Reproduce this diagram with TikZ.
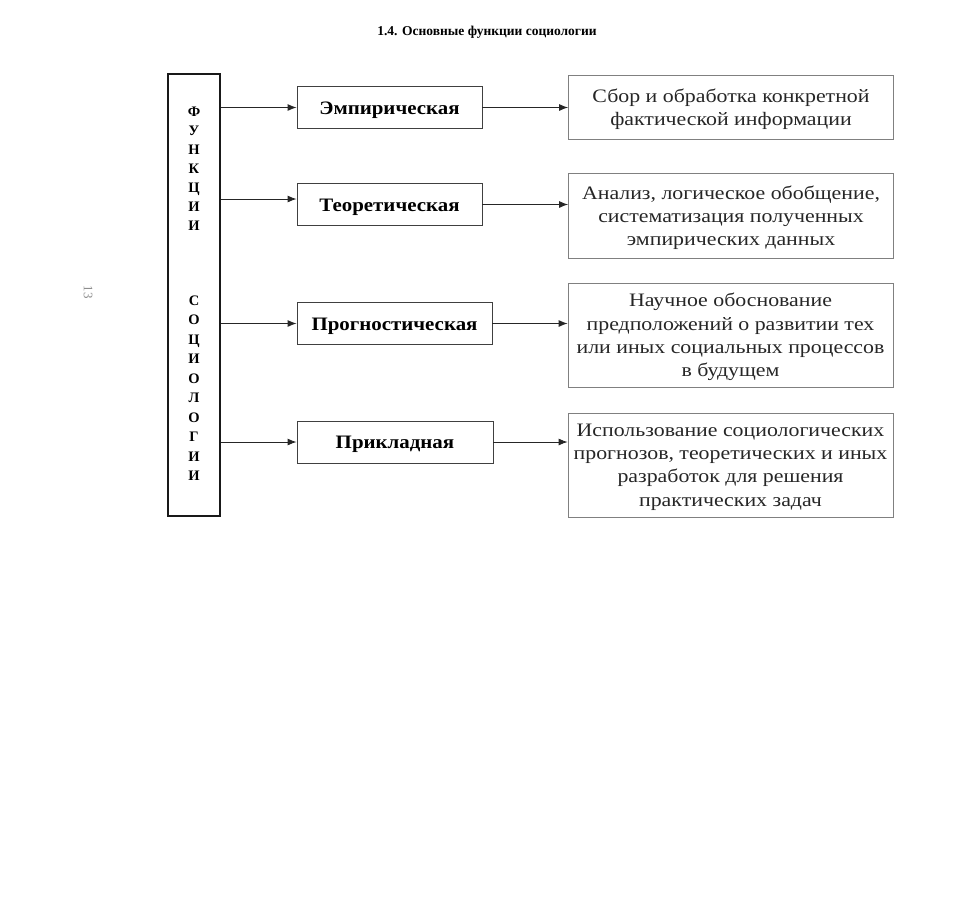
\documentclass[tikz,border=0pt]{standalone}
\usepackage{fontspec}
\setmainfont{Liberation Serif}
\newfontfamily\boxfont[FakeStretch=1.15]{Liberation Serif}
\newfontfamily\fnfont[FakeStretch=1.1]{Liberation Serif}
\usetikzlibrary{arrows.meta}
\begin{document}
\begin{tikzpicture}[x=1pt,y=-1pt,
  fnbox/.style={draw=black!75,line width=0.9pt,minimum width=#1,minimum height=42pt,inner sep=0pt,
    text height=13.5pt,text depth=0pt,
    font=\fnfont\bfseries\fontsize{19}{22}\selectfont},
  descbox/.style={draw=black!50,line width=0.8pt,minimum width=325pt,minimum height=#1,inner sep=0pt,
    align=center,text=black!85,text depth=0pt,font=\boxfont\fontsize{19}{23.3}\selectfont},
  letter/.style={inner sep=0pt,text height=10pt,text depth=0pt,font=\bfseries\fontsize{14.5}{15}\selectfont},
  conn/.style={draw=black!85,line width=0.9pt,-{Latex[length=9pt,width=7pt]}}]
\useasboundingbox (0,0) rectangle (960,903);

% title
\node[font=\bfseries\fontsize{13.5}{15}\selectfont] (title) at (487,32) {1.4. Основные функции социологии};

% page number
\node[rotate=-90,text=black!45,font=\fontsize{13}{13}\selectfont] (pg) at (88,292) {13};

% left vertical box
\node[draw=black!90,line width=1.1pt,minimum width=52pt,minimum height=442pt,inner sep=0pt] (fs) at (194,295) {};
\foreach \yy/\ll [count=\i] in {111/Ф,130/У,149/Н,168/К,187/Ц,206/И,225/И,
    300/С,319.5/О,339/Ц,358.5/И,378/О,397.5/Л,417/О,436.5/Г,456/И,475.5/И}
  \node[letter] (L\i) at (194,\yy) {\ll};

% function boxes
\node[fnbox=185pt] (E) at (389.5,107.5) {Эмпирическая};
\node[fnbox=185pt] (T) at (389.5,204.5) {Теоретическая};
\node[fnbox=195pt] (P) at (394.5,323.5) {Прогностическая};
\node[fnbox=196pt] (K) at (395,442) {Прикладная};

% description boxes
\node[descbox=64pt] (A) at (731,107) {Сбор и обработка конкретной\\фактической информации};
\node[descbox=85pt] (B) at (731,215.5) {Анализ, логическое обобщение,\\систематизация полученных\\эмпирических данных};
\node[descbox=104pt] (C) at (730.5,335) {Научное обоснование\\предположений о развитии тех\\или иных социальных процессов\\в будущем};
\node[descbox=104pt] (D) at (730.5,465) {Использование социологических\\прогнозов, теоретических и иных\\разработок для решения\\практических задач};

% connectors from left box
\draw[conn] (fs.east |- E.west) -- (E.west);
\draw[conn] ([yshift=5.5pt]fs.east |- T.west) -- ([yshift=5.5pt]T.west);
\draw[conn] (fs.east |- P.west) -- (P.west);
\draw[conn] (fs.east |- K.west) -- (K.west);

% connectors to description boxes
\draw[conn] (E.east) -- (E.east -| A.west);
\draw[conn] (T.east) -- (T.east -| B.west);
\draw[conn] (P.east) -- (P.east -| C.west);
\draw[conn] (K.east) -- (K.east -| D.west);
\end{tikzpicture}
\end{document}
